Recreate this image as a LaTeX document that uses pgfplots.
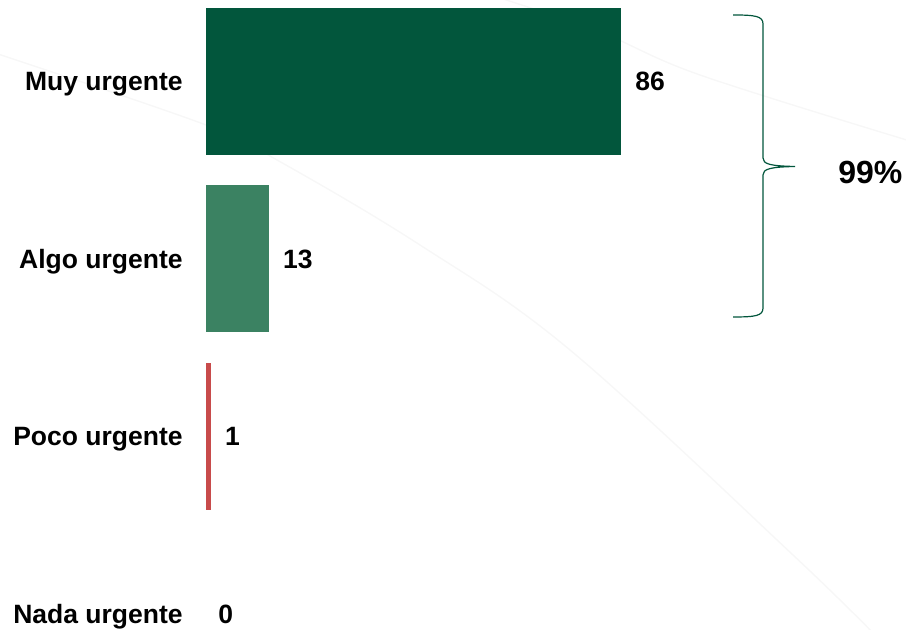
\documentclass[border=0pt]{standalone}
\usepackage{pgfplots}
\pgfplotsset{compat=1.18}
\usepackage{fontspec}
\setmainfont{Liberation Sans}
\definecolor{dkgreen}{HTML}{02563C}
\definecolor{mdgreen}{HTML}{3B8262}
\definecolor{redbar}{HTML}{C84B4B}
\newcommand{\lblfont}{\bfseries\fontsize{13.25}{15}\selectfont}
\begin{document}
\begin{tikzpicture}
% faint decorative background arcs (px coordinates, y downward)
\begin{scope}[yshift=315pt, x=0.5pt, y=-0.5pt]
  \clip (0,0) rectangle (906,630);
  \draw[black!3, line width=0.7pt] plot[smooth, tension=0.6] coordinates {(-5,53) (206,125) (277,160) (420,245) (570,350) (793,555) (880,640)};
  \draw[black!3, line width=0.7pt] plot[smooth, tension=0.6] coordinates {(500,-2) (600,32) (700,75) (910,141)};
\end{scope}
\begin{axis}[
  at={(0pt,0pt)}, anchor=south west,
  width=453pt, height=315pt, scale only axis,
  hide axis, clip=false,
  xmin=-42.686, xmax=145.04,
  ymin=-3.0901, ymax=0.4592,
  xbar, bar width=73.5pt, bar shift=0pt,
  point meta=x,
  /pgf/number format/assume math mode=true,
  nodes near coords={\pgfmathprintnumber{\pgfplotspointmeta}},
  nodes near coords style={anchor=base west, xshift=7pt, yshift=-4.75pt, inner sep=0pt, font=\lblfont, text=black},
]
\addplot[fill=dkgreen, draw=none] coordinates {(86,0)};
\addplot[fill=mdgreen, draw=none] coordinates {(13,-1)};
\addplot[fill=redbar, draw=none] coordinates {(1,-2)};
\addplot[fill=none, draw=none, nodes near coords style={xshift=-1pt}] coordinates {(0,-3)};
\node[anchor=base east, inner sep=0pt, yshift=-4.75pt, font=\lblfont] at (axis cs:-4.77,0) {Muy urgente};
\node[anchor=base east, inner sep=0pt, yshift=-4.75pt, font=\lblfont] at (axis cs:-4.77,-1) {Algo urgente};
\node[anchor=base east, inner sep=0pt, yshift=-4.75pt, font=\lblfont] at (axis cs:-4.77,-2) {Poco urgente};
\node[anchor=base east, inner sep=0pt, yshift=-4.75pt, font=\lblfont] at (axis cs:-4.77,-3) {Nada urgente};
\end{axis}
\begin{scope}[yshift=315pt, x=0.5pt, y=-0.5pt]
  \draw[dkgreen, line width=0.6pt] (733,15) .. controls (755,15) and (763,16) .. (763,24) -- (763,158)
     .. controls (763,164) and (770,166) .. (795,166.5)
     .. controls (770,167) and (763,169) .. (763,175) -- (763,308)
     .. controls (763,316) and (755,317) .. (733,317);
  \node[anchor=base west, inner sep=0pt, yshift=-5.6pt, font=\bfseries\fontsize{16}{19}\selectfont] at (838,172) {99\%};
\end{scope}
\pgfresetboundingbox
\path (0pt,0pt) rectangle (453pt,315pt);
\end{tikzpicture}
\end{document}
